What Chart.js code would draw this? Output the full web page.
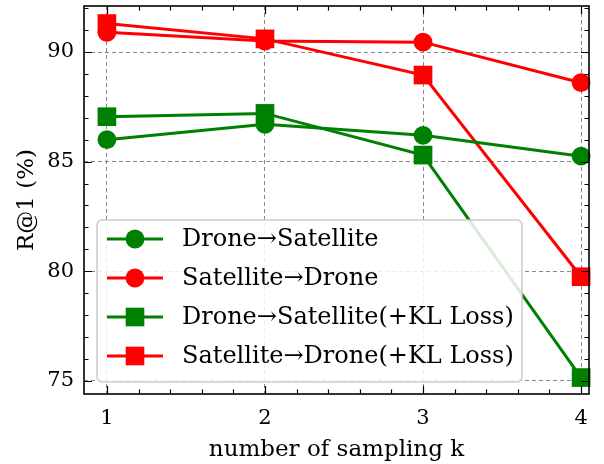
<!DOCTYPE html>
<html>
<head>
<script src="https://cdn.jsdelivr.net/npm/chart.js@4/dist/chart.umd.min.js"></script>
<style>
  html, body { margin: 0; padding: 0; background: #fff; }
  #wrap { width: 604px; height: 464px; }
</style>
</head>
<body>
<div id="wrap"><canvas id="canvas"></canvas></div>
<script>
const kValues = [1, 2, 3, 4];
const droneToSat = [86.0, 86.7, 86.2, 85.25];
const satToDrone = [90.9, 90.5, 90.45, 88.6];
const droneToSatKL = [87.05, 87.2, 85.3, 75.15];
const satToDroneKL = [91.3, 90.6, 88.95, 79.75];
const yTickValues = [75, 80, 85, 90];
const xTickValues = [1, 2, 3, 4];

const FONT = "'DejaVu Serif', 'Liberation Serif', serif";
const GREEN = '#008000';
const RED = '#ff0000';

const pts = (ys) => kValues.map((k, i) => ({x: k, y: ys[i]}));

function series(label, ys, color, shape) {
  return {
    label: label,
    data: pts(ys),
    borderColor: color,
    backgroundColor: color,
    borderWidth: 3,
    pointStyle: shape,
    pointRadius: shape === 'rect' ? 13.2 : 9.4,
    pointBorderWidth: 0,
    pointHoverRadius: 9,
    tension: 0,
    clip: false
  };
}

// inward ticks + frame, like the matplotlib style
const frameTicks = {
  id: 'frameTicks',
  afterDatasetsDraw(chart) {
    const {ctx, chartArea: a, scales: {x, y}} = chart;
    ctx.save();
    ctx.strokeStyle = '#000';
    ctx.lineWidth = 1.2;
    ctx.beginPath();
    for (let v = 1; v <= 4.0001; v += 0.2) {
      const px = Math.round(x.getPixelForValue(v)) + 0.5;
      const major = Math.abs(v - Math.round(v)) < 1e-6;
      const len = major ? 8 : 4.5;
      ctx.moveTo(px, a.bottom); ctx.lineTo(px, a.bottom - len);
      ctx.moveTo(px, a.top); ctx.lineTo(px, a.top + len);
    }
    for (let v = 75; v <= 92; v += 1) {
      const py = Math.round(y.getPixelForValue(v)) + 0.5;
      const len = v % 5 === 0 ? 8 : 4.5;
      ctx.moveTo(a.left, py); ctx.lineTo(a.left + len, py);
      ctx.moveTo(a.right, py); ctx.lineTo(a.right - len, py);
    }
    ctx.stroke();
    ctx.lineWidth = 1.6;
    ctx.strokeRect(a.left, a.top, a.right - a.left, a.bottom - a.top);
    ctx.restore();
  },
  afterDraw(chart) {
    // legend box inside plot
    const {ctx} = chart;
    const bx = 97, by = 220, bw = 425, bh = 162;
    ctx.save();
    ctx.beginPath();
    ctx.roundRect(bx, by, bw, bh, 5);
    ctx.fillStyle = 'rgba(255,255,255,0.85)';
    ctx.fill();
    ctx.strokeStyle = '#cccccc';
    ctx.lineWidth = 1.5;
    ctx.stroke();
    chart.data.datasets.forEach((ds, i) => {
      const cy = 239 + i * 39;
      ctx.strokeStyle = ds.borderColor;
      ctx.fillStyle = ds.borderColor;
      ctx.lineWidth = 3;
      ctx.beginPath();
      ctx.moveTo(107, cy); ctx.lineTo(163, cy);
      ctx.stroke();
      if (ds.pointStyle === 'rect') {
        ctx.fillRect(135 - 9.3, cy - 9.3, 18.6, 18.6);
      } else {
        ctx.beginPath(); ctx.arc(135, cy, 9.4, 0, Math.PI * 2); ctx.fill();
      }
      ctx.fillStyle = '#000';
      ctx.font = '24px ' + FONT;
      ctx.textBaseline = 'middle';
      ctx.textAlign = 'left';
      ctx.fillText(ds.label, 182, cy + 1);
    });
    ctx.restore();
  }
};

new Chart(document.getElementById('canvas'), {
  type: 'line',
  data: {
    datasets: [
      series('Drone\u2192Satellite', droneToSat, GREEN, 'circle'),
      series('Satellite\u2192Drone', satToDrone, RED, 'circle'),
      series('Drone\u2192Satellite(+KL Loss)', droneToSatKL, GREEN, 'rect'),
      series('Satellite\u2192Drone(+KL Loss)', satToDroneKL, RED, 'rect')
    ]
  },
  options: {
    responsive: true,
    maintainAspectRatio: false,
    animation: false,
    layout: {autoPadding: false, padding: {top: 6, right: 15, left: 0, bottom: 0}},
    plugins: {
      legend: {display: false},
      tooltip: {enabled: false}
    },
    scales: {
      x: {
        type: 'linear',
        min: 0.855,
        max: 4.05,
        afterBuildTicks: (s) => { s.ticks = xTickValues.map(v => ({value: v})); },
        afterFit: (s) => { s.height = 70; s.paddingLeft = 0; s.paddingRight = 0; },
        grid: {
          color: '#888',
          lineWidth: 1,
          drawTicks: false
        },
        border: {display: false, dash: [4, 3]},
        ticks: {
          color: '#000',
          font: {family: FONT, size: 21},
          padding: 12,
          maxRotation: 0,
          callback: (v) => String(v)
        },
        title: {
          display: true,
          text: 'number of sampling k',
          color: '#000',
          font: {family: FONT, size: 23},
          padding: {top: 0, bottom: 0}
        }
      },
      y: {
        min: 74.4,
        max: 92.1,
        afterBuildTicks: (s) => { s.ticks = yTickValues.map(v => ({value: v})); },
        afterFit: (s) => { s.width = 84; s.paddingTop = 0; s.paddingBottom = 0; },
        grid: {
          color: '#888',
          lineWidth: 1,
          drawTicks: false
        },
        border: {display: false, dash: [4, 3]},
        ticks: {
          color: '#000',
          font: {family: FONT, size: 21},
          padding: 10,
          callback: (v) => String(v)
        },
        title: {
          display: true,
          text: 'R@1 (%)',
          color: '#000',
          font: {family: FONT, size: 23},
          padding: {top: 13, bottom: 0}
        }
      }
    }
  },
  plugins: [frameTicks]
});
</script>
</body>
</html>
